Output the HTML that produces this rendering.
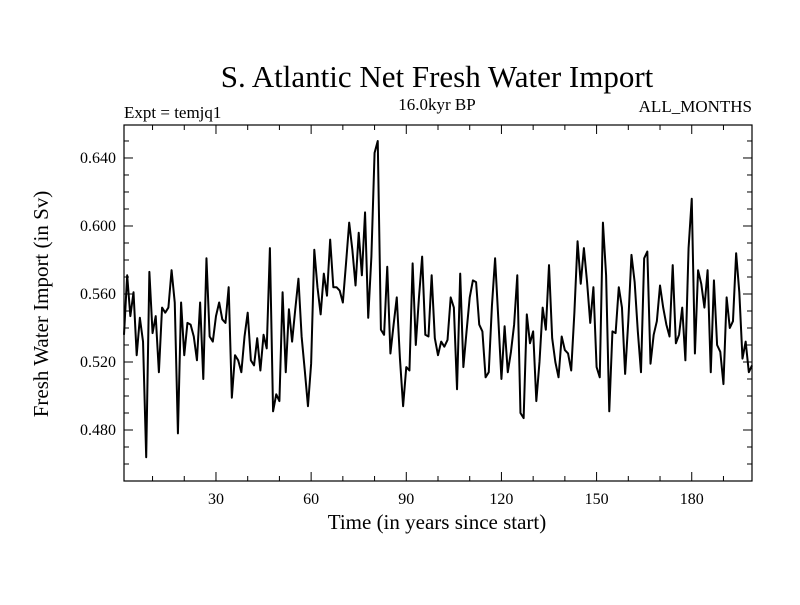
<!DOCTYPE html>
<html><head><meta charset="utf-8"><style>
html,body{margin:0;padding:0;background:#fff;}
svg text{font-family:"Liberation Serif",serif;fill:#000;}
</style></head><body>
<svg id="chart" width="800" height="600" viewBox="0 0 800 600">
<text x="437" y="87" font-size="31" text-anchor="middle">S. Atlantic Net Fresh Water Import</text>
<text x="124" y="118" font-size="17">Expt = temjq1</text>
<text x="437" y="110" font-size="17" text-anchor="middle">16.0kyr BP</text>
<text x="752" y="112" font-size="17" text-anchor="end">ALL_MONTHS</text>
<text x="0" y="0" font-size="21" text-anchor="middle" transform="translate(48,304) rotate(-90)">Fresh Water Import (in Sv)</text>
<text x="437" y="529" font-size="21" text-anchor="middle">Time (in years since start)</text>
<g id="axes"></g>
<path id="series" fill="none" stroke="#000" stroke-width="2" stroke-linejoin="round"></path>
<rect x="124" y="125" width="628" height="356" fill="none" stroke="#000" stroke-width="1.2"></rect>
</svg>
<script>
const values = [
0.536,0.571,0.547,0.561,0.524,0.546,0.532,0.464,0.573,0.537,0.547,0.514,0.552,0.549,0.552,0.574,0.555,
0.478,0.555,0.524,0.543,0.542,0.535,0.521,0.555,0.510,0.581,0.535,0.532,0.547,0.555,0.545,0.543,0.564,0.499,0.524,0.521,0.514,0.535,0.549,0.521,0.518,0.534,0.515,0.536,0.528,0.587,0.491,0.501,0.497,0.561,
0.514,0.551,0.532,0.551,0.569,0.535,0.515,0.494,0.519,0.586,0.564,0.548,0.572,0.559,0.592,0.564,0.564,0.562,0.555,0.578,0.602,0.586,0.565,0.596,0.571,0.608,0.546,0.582,0.643,0.650,0.539,0.536,0.576,0.525,
0.542,0.558,0.522,0.494,0.517,0.515,0.578,0.530,0.558,0.582,0.536,0.535,0.571,0.534,0.524,0.532,0.529,
0.533,0.558,0.552,0.504,0.572,0.517,0.538,0.558,0.568,0.567,0.542,0.538,0.511,0.514,0.553,0.581,0.546,0.510,0.541,0.514,0.526,0.542,0.571,0.490,0.487,0.548,0.531,0.538,0.497,0.520,0.552,0.539,0.577,0.534,0.520,0.511,0.535,0.527,0.525,0.515,0.549,0.591,0.566,0.587,0.567,0.543,0.564,0.517,0.511,0.602,
0.571,0.491,0.538,0.537,0.564,0.552,0.513,0.544,0.583,0.567,0.538,0.514,0.581,0.585,0.519,0.536,0.544,0.565,0.552,0.542,0.535,0.577,0.531,0.536,0.552,0.521,0.587,0.616,0.525,0.574,0.566,0.552,0.574,0.514,0.568,0.530,0.526,0.507,0.558,0.540,0.544,0.584,0.561,0.522,0.532,0.514,0.518
];
const xTickLabels = [30,60,90,120,150,180];
const yTickLabels = ["0.480","0.520","0.560","0.600","0.640"];
const xDomain = [1,199];
const yDomain = [0.4500,0.6594];

const L=124,R=752,T=125,B=481;
function xs(v){return L+(v-xDomain[0])/(xDomain[1]-xDomain[0])*(R-L);}
function ys(v){return B-(v-yDomain[0])/(yDomain[1]-yDomain[0])*(B-T);}
const NS='http://www.w3.org/2000/svg';
const axes=document.getElementById('axes');
function line(x1,y1,x2,y2,name){
  const l=document.createElementNS(NS,'line');
  l.setAttribute('x1',x1);l.setAttribute('y1',y1);l.setAttribute('x2',x2);l.setAttribute('y2',y2);
  l.setAttribute('stroke','#000');l.setAttribute('stroke-width','1');
  
  
  axes.appendChild(l);
}
function text(x,y,s,anchor,name){
  const t=document.createElementNS(NS,'text');
  t.setAttribute('x',x);t.setAttribute('y',y);t.setAttribute('font-size','16');t.setAttribute('text-anchor',anchor);
  t.textContent=s;
  
  
  axes.appendChild(t);
}
for(let yr=10; yr<=199; yr+=10){
  const major = yr%30===0, len = major?9:5, x=xs(yr);
  line(x,B,x,B-len,'x-tick');
  line(x,T,x,T+len,'x-tick-top');
}
xTickLabels.forEach(v=>text(xs(v),504,String(v),'middle','x-tick-label'));
for(let k=45; k<=65; k++){
  const v=k/100; if(v<yDomain[0]||v>yDomain[1]) continue;
  const major = (k%4===0), len = major?9:5, y=ys(v);
  line(L,y,L+len,y,'y-tick');
  line(R,y,R-len,y,'y-tick-right');
}
yTickLabels.forEach(s=>text(116,ys(parseFloat(s))+5,s,'end','y-tick-label'));
const n = values.length;
let d='';
values.forEach((v,i)=>{ d+=(i?'L':'M')+xs(xDomain[0]+i*(xDomain[1]-xDomain[0])/(n-1)).toFixed(2)+','+ys(v).toFixed(2); });
document.getElementById('series').setAttribute('d',d);
</script>
</body></html>
